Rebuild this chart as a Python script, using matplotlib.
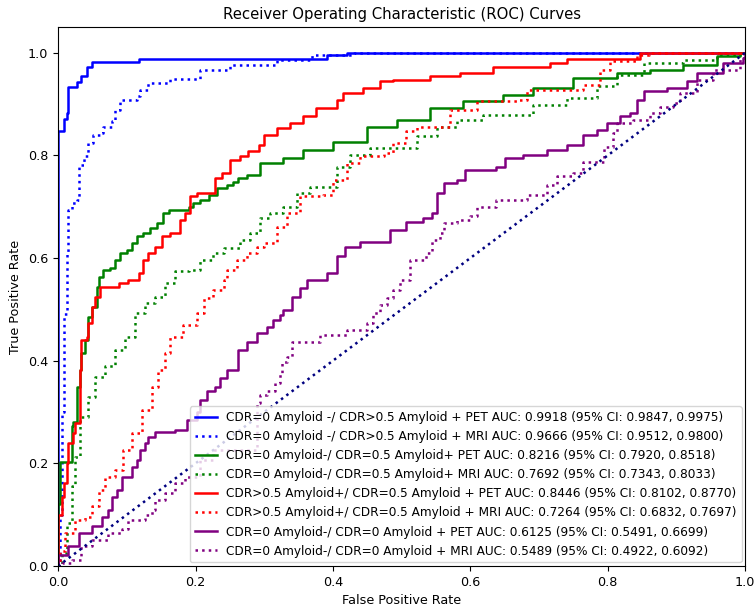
import matplotlib
matplotlib.use("Agg")
import matplotlib.pyplot as plt

# ROC curves (fpr, tpr)
fpr_pet1 = [0, 0, 0.008, 0.013, 0.015, 0.027, 0.034, 0.042, 0.049, 0.117, 0.391, 0.42, 1.0]
tpr_pet1 = [0, 0.848, 0.87, 0.882, 0.934, 0.943, 0.954, 0.973, 0.982, 0.988, 0.996, 1.0, 1.0]

fpr_mri1 = [0, 0.002, 0.005, 0.008, 0.013, 0.015, 0.02, 0.027, 0.03, 0.037, 0.044, 0.051, 0.061, 0.066,
            0.078, 0.083, 0.09, 0.115, 0.119, 0.131, 0.163, 0.207, 0.25, 0.318, 0.369, 0.43, 1.0]
tpr_mri1 = [0, 0.1, 0.3, 0.49, 0.61, 0.694, 0.707, 0.713, 0.782, 0.798, 0.824, 0.84, 0.844, 0.856,
            0.866, 0.889, 0.908, 0.915, 0.928, 0.941, 0.949, 0.967, 0.977, 0.986, 0.996, 1.0, 1.0]

fpr_pet2 = [0, 0, 0.003, 0.02, 0.022, 0.027, 0.032, 0.034, 0.039, 0.044,
            0.049, 0.056, 0.059, 0.066, 0.076, 0.083, 0.09, 0.1, 0.107, 0.115,
            0.124, 0.134, 0.144, 0.153, 0.161, 0.19, 0.197, 0.207, 0.219, 0.231,
            0.246, 0.255, 0.262, 0.275, 0.294, 0.328, 0.357, 0.4, 0.449, 0.493,
            0.541, 0.59, 0.648, 0.691, 0.75, 0.813, 0.862, 0.91, 0.959, 0.993, 1.0]
tpr_pet2 = [0, 0.12, 0.203, 0.272, 0.28, 0.349, 0.382, 0.415, 0.44, 0.486,
            0.505, 0.544, 0.564, 0.577, 0.581, 0.596, 0.61, 0.616, 0.63, 0.642,
            0.649, 0.659, 0.668, 0.688, 0.694, 0.7, 0.708, 0.713, 0.723, 0.737,
            0.743, 0.749, 0.756, 0.762, 0.786, 0.795, 0.811, 0.827, 0.856, 0.869,
            0.893, 0.905, 0.918, 0.932, 0.951, 0.961, 0.967, 0.977, 0.993, 1.0, 1.0]

fpr_mri2 = [0, 0.005, 0.013, 0.02, 0.025, 0.032, 0.044, 0.054, 0.068, 0.083,
            0.098, 0.112, 0.127, 0.141, 0.156, 0.17, 0.19, 0.207, 0.226, 0.241,
            0.265, 0.279, 0.294, 0.309, 0.328, 0.347, 0.367, 0.406, 0.425, 0.454,
            0.522, 0.551, 0.58, 0.619, 0.691, 0.74, 0.784, 0.813, 0.852, 0.91,
            0.959, 0.993, 1.0]
tpr_mri2 = [0, 0.025, 0.083, 0.155, 0.213, 0.291, 0.33, 0.369, 0.389, 0.421,
            0.447, 0.493, 0.512, 0.525, 0.551, 0.574, 0.577, 0.596, 0.61, 0.62,
            0.635, 0.649, 0.678, 0.688, 0.7, 0.727, 0.739, 0.778, 0.801, 0.815,
            0.837, 0.856, 0.869, 0.879, 0.899, 0.912, 0.935, 0.957, 0.98, 0.986,
            0.996, 1.0, 1.0]

fpr_pet3 = [0, 0, 0.005, 0.008, 0.013, 0.015, 0.022, 0.025, 0.032, 0.034,
            0.042, 0.044, 0.049, 0.054, 0.061, 0.088, 0.102, 0.117, 0.124, 0.131,
            0.141, 0.151, 0.163, 0.178, 0.185, 0.192, 0.202, 0.229, 0.238, 0.25,
            0.265, 0.277, 0.292, 0.299, 0.318, 0.338, 0.357, 0.376, 0.406, 0.415,
            0.444, 0.469, 0.488, 0.541, 0.585, 0.633, 0.716, 0.74, 0.847, 1.0]
tpr_pet3 = [0, 0.1, 0.135, 0.161, 0.2, 0.239, 0.259, 0.278, 0.382, 0.44,
            0.447, 0.473, 0.505, 0.525, 0.544, 0.551, 0.557, 0.571, 0.596, 0.61,
            0.622, 0.642, 0.649, 0.674, 0.688, 0.72, 0.727, 0.756, 0.766, 0.791,
            0.798, 0.808, 0.821, 0.84, 0.854, 0.863, 0.876, 0.893, 0.908, 0.922,
            0.932, 0.944, 0.947, 0.954, 0.961, 0.973, 0.98, 0.988, 1.0, 1.0]

fpr_mri3 = [0, 0.003, 0.01, 0.025, 0.039, 0.049, 0.059, 0.068, 0.083, 0.095,
            0.107, 0.122, 0.136, 0.146, 0.156, 0.163, 0.182, 0.202, 0.212, 0.226,
            0.241, 0.246, 0.26, 0.275, 0.289, 0.299, 0.318, 0.333, 0.352, 0.386,
            0.4, 0.42, 0.44, 0.474, 0.488, 0.507, 0.522, 0.571, 0.609, 0.668,
            0.682, 0.764, 0.789, 0.803, 0.842, 0.86, 1.0]
tpr_mri3 = [0, 0.03, 0.064, 0.09, 0.096, 0.116, 0.148, 0.174, 0.187, 0.226,
            0.259, 0.304, 0.349, 0.382, 0.415, 0.447, 0.47, 0.493, 0.522, 0.538,
            0.557, 0.577, 0.596, 0.61, 0.622, 0.63, 0.661, 0.688, 0.72, 0.723,
            0.752, 0.786, 0.798, 0.805, 0.824, 0.847, 0.856, 0.889, 0.905, 0.908,
            0.928, 0.937, 0.967, 0.983, 0.996, 1.0, 1.0]

fpr_pet4 = [0, 0, 0.015, 0.03, 0.049, 0.064, 0.073, 0.078, 0.085, 0.093,
            0.107, 0.115, 0.119, 0.127, 0.131, 0.141, 0.17, 0.187, 0.202, 0.207,
            0.216, 0.229, 0.236, 0.246, 0.262, 0.275, 0.289, 0.304, 0.313, 0.323,
            0.328, 0.34, 0.352, 0.362, 0.391, 0.406, 0.418, 0.44, 0.483, 0.507,
            0.531, 0.544, 0.551, 0.561, 0.58, 0.592, 0.638, 0.651, 0.677, 0.711,
            0.74, 0.764, 0.784, 0.799, 0.818, 0.833, 0.842, 0.852, 0.886, 0.915,
            0.93, 0.968, 0.997, 1.0]
tpr_pet4 = [0, 0.021, 0.038, 0.064, 0.077, 0.096, 0.109, 0.135, 0.148, 0.174,
            0.193, 0.207, 0.226, 0.239, 0.252, 0.262, 0.265, 0.285, 0.301, 0.323,
            0.34, 0.349, 0.366, 0.382, 0.421, 0.437, 0.454, 0.466, 0.48, 0.489,
            0.499, 0.525, 0.541, 0.557, 0.571, 0.603, 0.622, 0.632, 0.655, 0.671,
            0.678, 0.688, 0.727, 0.746, 0.752, 0.772, 0.778, 0.795, 0.801, 0.811,
            0.821, 0.84, 0.85, 0.863, 0.876, 0.883, 0.908, 0.925, 0.931, 0.944,
            0.96, 0.98, 0.99, 1.0]

fpr_mri4 = [0, 0.005, 0.02, 0.034, 0.049, 0.073, 0.093, 0.102, 0.127, 0.136,
            0.141, 0.156, 0.17, 0.185, 0.207, 0.226, 0.289, 0.294, 0.304, 0.316,
            0.323, 0.326, 0.333, 0.34, 0.381, 0.42, 0.449, 0.459, 0.469, 0.478,
            0.488, 0.498, 0.512, 0.536, 0.544, 0.556, 0.561, 0.58, 0.6, 0.609,
            0.638, 0.682, 0.711, 0.726, 0.75, 0.764, 0.794, 0.808, 0.813, 0.837,
            0.862, 0.876, 0.895, 0.905, 0.93, 0.953, 0.993, 1.0]
tpr_mri4 = [0, 0.005, 0.012, 0.038, 0.051, 0.064, 0.073, 0.09, 0.099, 0.109,
            0.129, 0.142, 0.161, 0.174, 0.207, 0.226, 0.317, 0.333, 0.34, 0.356,
            0.376, 0.398, 0.408, 0.437, 0.45, 0.46, 0.473, 0.493, 0.509, 0.522,
            0.538, 0.557, 0.596, 0.61, 0.635, 0.649, 0.668, 0.674, 0.681, 0.7,
            0.713, 0.723, 0.743, 0.759, 0.766, 0.788, 0.817, 0.844, 0.863, 0.869,
            0.883, 0.895, 0.902, 0.922, 0.947, 0.967, 0.99, 1.0]

labels = [
    'CDR=0 Amyloid -/ CDR>0.5 Amyloid + PET AUC: 0.9918 (95% CI: 0.9847, 0.9975)',
    'CDR=0 Amyloid -/ CDR>0.5 Amyloid + MRI AUC: 0.9666 (95% CI: 0.9512, 0.9800)',
    'CDR=0 Amyloid-/ CDR=0.5 Amyloid+ PET AUC: 0.8216 (95% CI: 0.7920, 0.8518)',
    'CDR=0 Amyloid-/ CDR=0.5 Amyloid+ MRI AUC: 0.7692 (95% CI: 0.7343, 0.8033)',
    'CDR>0.5 Amyloid+/ CDR=0.5 Amyloid + PET AUC: 0.8446 (95% CI: 0.8102, 0.8770)',
    'CDR>0.5 Amyloid+/ CDR=0.5 Amyloid + MRI AUC: 0.7264 (95% CI: 0.6832, 0.7697)',
    'CDR=0 Amyloid-/ CDR=0 Amyloid + PET AUC: 0.6125 (95% CI: 0.5491, 0.6699)',
    'CDR=0 Amyloid-/ CDR=0 Amyloid + MRI AUC: 0.5489 (95% CI: 0.4922, 0.6092)',
]
colors = ['blue', 'blue', 'green', 'green', 'red', 'red', 'purple', 'purple']
styles = ['-', ':', '-', ':', '-', ':', '-', ':']

curves = [(fpr_pet1, tpr_pet1), (fpr_mri1, tpr_mri1), (fpr_pet2, tpr_pet2), (fpr_mri2, tpr_mri2),
          (fpr_pet3, tpr_pet3), (fpr_mri3, tpr_mri3), (fpr_pet4, tpr_pet4), (fpr_mri4, tpr_mri4)]

fig = plt.figure(figsize=(7.55, 6.09), dpi=100)
ax = fig.add_axes([0.077, 0.0706, 0.91, 0.885])

for (fpr, tpr), c, ls, lab in zip(curves, colors, styles, labels):
    ax.plot(fpr, tpr, color=c, linestyle=ls, lw=1.8, drawstyle='steps-post', label=lab)

# chance line
ax.plot([0, 1], [0, 1], color='navy', lw=1.8, linestyle=':')

ax.set_xlim(0.0, 1.0)
ax.set_ylim(0.0, 1.05)
ax.set_xlabel('False Positive Rate', fontsize=9.2)
ax.set_ylabel('True Positive Rate', fontsize=9.2)
ax.set_title('Receiver Operating Characteristic (ROC) Curves', fontsize=10.7)
ax.tick_params(labelsize=9.2)
ax.legend(loc='lower right', fontsize=8.7, borderaxespad=0.3, handlelength=1.8)

fig.savefig('out.png', dpi=100)
